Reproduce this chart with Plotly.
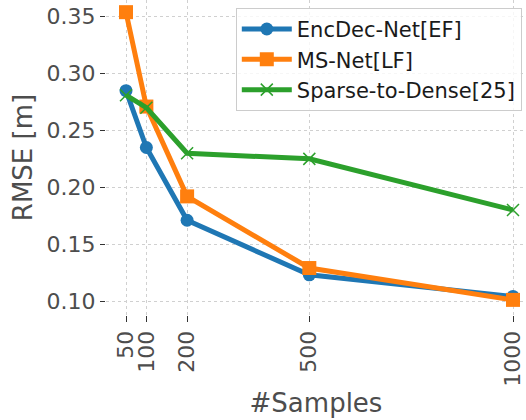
import plotly.graph_objects as go

samples = [50, 100, 200, 500, 1000]
encdec = [0.285, 0.235, 0.171, 0.123, 0.104]
msnet = [0.354, 0.271, 0.192, 0.129, 0.101]
s2d = [0.281, 0.270, 0.230, 0.225, 0.180]
yticks = [0.10, 0.15, 0.20, 0.25, 0.30, 0.35]

fig = go.Figure()
fig.add_trace(go.Scatter(x=samples, y=encdec, name="EncDec-Net[EF]", mode="lines+markers",
                         line=dict(color="#1f77b4", width=5),
                         marker=dict(symbol="circle", size=13, color="#1f77b4"), cliponaxis=False))
fig.add_trace(go.Scatter(x=samples, y=msnet, name="MS-Net[LF]", mode="lines+markers",
                         line=dict(color="#ff7f0e", width=5),
                         marker=dict(symbol="square", size=14, color="#ff7f0e"), cliponaxis=False))
fig.add_trace(go.Scatter(x=samples, y=s2d, name="Sparse-to-Dense[25]", mode="lines+markers",
                         line=dict(color="#2ca02c", width=5),
                         marker=dict(symbol="x-thin", size=12, color="#2ca02c",
                                     line=dict(color="#2ca02c", width=1.5)), cliponaxis=False))

axis_font = dict(family="DejaVu Sans", size=22, color="#4d4d4d")
fig.update_layout(
    width=526, height=420,
    margin=dict(l=106, r=0, t=0, b=105),
    plot_bgcolor="white", paper_bgcolor="white",
    font=dict(family="DejaVu Sans", color="#4d4d4d"),
    showlegend=True,
    legend=dict(x=0.99, y=0.975, xanchor="right", yanchor="top",
                bgcolor="rgba(255,255,255,0.8)", bordercolor="#cccccc", borderwidth=1,
                font=dict(family="DejaVu Sans", size=21, color="#1a1a1a"),
                tracegroupgap=0, itemwidth=50),
    xaxis=dict(range=[0.9, 1031.9], tickvals=samples, ticktext=[str(s) for s in samples],
               tickangle=-90, tickfont=axis_font, ticks="outside", ticklen=6, tickcolor="#333333",
               showgrid=True, gridcolor="#d0d0d0", griddash="dot", gridwidth=1,
               zeroline=False, showline=False,
               title=dict(text="#Samples", font=dict(family="DejaVu Sans", size=26, color="#4d4d4d"), standoff=8)),
    yaxis=dict(range=[0.0877, 0.3647], tickvals=yticks, ticktext=["%.2f" % v for v in yticks],
               tickfont=axis_font, ticks="outside", ticklen=5, tickcolor="#333333",
               showgrid=True, gridcolor="#d0d0d0", griddash="dot", gridwidth=1,
               zeroline=False, showline=False,
               title=dict(text="RMSE [m]", font=dict(family="DejaVu Sans", size=26, color="#4d4d4d"), standoff=6)),
)
fig.write_html("out.html")
